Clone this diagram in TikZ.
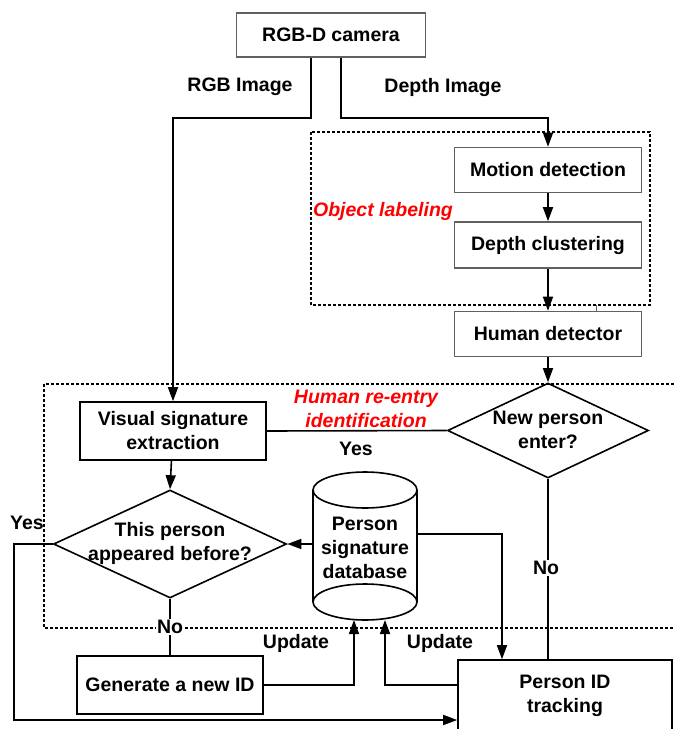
\documentclass[tikz,border=0pt]{standalone}
\usepackage{fontspec}
\setmainfont{Liberation Sans}
\usetikzlibrary{arrows.meta,shapes.geometric}
\definecolor{graybox}{HTML}{606060}
\begin{document}
\begin{tikzpicture}[x=1pt,y=-1pt,
  every node/.style={font=\fontsize{19.5}{24}\selectfont\bfseries},
  topbox/.style={draw=graybox, line width=1.6pt, rectangle, inner sep=0pt},
  box/.style={draw, line width=1.6pt, rectangle, inner sep=0pt, align=center},
  diam/.style={draw, diamond, line width=1.6pt, inner sep=0pt},
  txt/.style={align=center, inner sep=0pt},
  redtxt/.style={text=red, font=\fontsize{19.5}{24}\selectfont\bfseries\itshape, align=center, inner sep=0pt},
  conn/.style={line width=1.6pt},
  arr/.style={conn, -{Triangle[length=14pt,width=10pt]}},
  dotbox/.style={line width=1.3pt, dash pattern=on 3pt off 2pt},
  lbl/.style={fill=white, inner sep=1.5pt}
]
\useasboundingbox (0,0) rectangle (674,729);
\clip (0,0) rectangle (674,729);
\fill[white] (0,0) rectangle (674,729);

% dotted groups
\draw[dotbox] (311,132) rectangle (650,305);
\draw[dotbox] (44,384) rectangle (690,628);

% nodes
\node[topbox, minimum width=189pt, minimum height=44pt] (cam) at (331,35) {RGB-D camera};
\node[topbox, minimum width=187pt, minimum height=45pt] (mot) at (548,170) {Motion detection};
\node[topbox, minimum width=187pt, minimum height=46pt] (dep) at (548,245) {Depth clustering};
\node[topbox, minimum width=187pt, minimum height=45pt] (hum) at (548,334) {Human detector};
\node[diam, minimum width=201pt, minimum height=95pt] (newp) at (548,430.5) {};
\node[txt] (newpt) at (548,430) {New person\\enter?};
\node[box, minimum width=186pt, minimum height=58pt] (vis) at (173,431) {Visual signature\\extraction};
\node[diam, minimum width=233pt, minimum height=108pt] (app) at (170,544) {};
\node[txt] (appt) at (170,543) {This person\\appeared before?};
\node[inner sep=0pt, minimum width=104pt, minimum height=148pt] (db) at (365,546) {};
\draw[line width=1.6pt] (313,490) -- (313,602) (417,490) -- (417,602);
\draw[line width=1.6pt] (365,490) ellipse [x radius=52, y radius=18];
\draw[line width=1.6pt] (365,602) ellipse [x radius=52, y radius=18];
\node[txt] (dbt) at (365,548) {Person\\signature\\database};
\node[box, minimum width=186pt, minimum height=58pt] (gen) at (170,685) {Generate a new ID};
\node[box, minimum width=214pt, minimum height=80pt] (trk) at (565,700) {};
\node[txt] (trkt) at (565,696) {Person ID\\tracking};

\coordinate (dbu1) at (354,620);
\coordinate (dbu2) at (385,620);
\coordinate (tick1) at (596,305);
\coordinate (tick2) at (596,312);

% labels
\node (lrgb) at (240,87) {RGB Image};
\node (ldep) at (443,87) {Depth Image};
\node[redtxt] (lobj) at (383,211) {Object labeling};
\node[redtxt] (lhre) at (366,409) {Human re-entry\\identification};

% connectors
\draw[arr] ([xshift=-20pt]cam.south) -- ++(0,60) -| (vis.north);
\draw[arr] ([xshift=10pt]cam.south) -- ++(0,60) -| (mot.north);
\draw[arr] (mot) -- (dep);
\draw[arr] (dep) -- (hum);
\draw[arr] (hum) -- (newp.north);
\draw[graybox, line width=1pt] (tick1) -- (tick2);
\draw[conn] (vis.east) -- (newp.west);
\draw[arr] (vis) -- (app.north);
\draw[arr] (db.west |- app.east) -- (app.east);
\draw[arr] (db.east |- 0,534) -| ([xshift=-63pt]trk.north);
\draw[conn] (newp.south) -- (newp.south |- trk.north);
\draw[conn] (app.south) -- (gen.north);
\draw[arr] (gen.east) -| (dbu1);
\draw[arr] (trk.west |- gen.east) -| (dbu2);
\draw[arr] (app.west) -- ++(-39,0) |- (trk.west |- 0,720);

\node (lyes1) at (356,449) {Yes};
\node (lyes2) at (27,523) {Yes};
\node[lbl] (lno1) at (170,627) {No};
\node[lbl] (lno2) at (546,568) {No};
\node (lup1) at (296,643) {Update};
\node (lup2) at (440,643) {Update};
\end{tikzpicture}
\end{document}
